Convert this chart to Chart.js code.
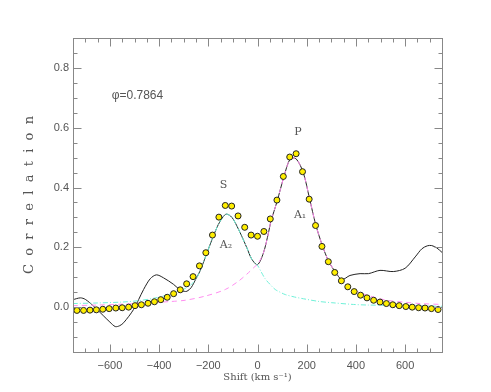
<!DOCTYPE html>
<html>
<head>
<meta charset="utf-8">
<script src="https://cdn.jsdelivr.net/npm/chart.js@4/dist/chart.umd.min.js"></script>
<style>
  html, body { margin: 0; padding: 0; background: #fff; }
  #c { display: block; }
</style>
</head>
<body>
<canvas id="c" width="491" height="392"></canvas>
<script>
// ---- data ----
const pointX = [-734,-707,-681,-655,-629,-603,-576,-550,-524,-498,-472,-445,-419,-393,-367,-341,-314,-288,-262,-236,-210,-183,-157,-131,-105,-79,-52,-26,0,26,52,79,105,131,157,183,210,236,262,288,314,341,367,393,419,445,472,498,524,550,576,603,629,655,681,707,734];
const pointY = [-0.011,-0.011,-0.010,-0.009,-0.007,-0.005,-0.003,-0.002,0.000,0.005,0.008,0.013,0.018,0.025,0.033,0.045,0.058,0.078,0.102,0.138,0.182,0.241,0.301,0.340,0.338,0.305,0.267,0.241,0.237,0.253,0.295,0.358,0.437,0.502,0.513,0.453,0.361,0.273,0.203,0.152,0.116,0.088,0.068,0.052,0.040,0.031,0.023,0.017,0.012,0.008,0.005,0.002,0.000,-0.002,-0.003,-0.005,-0.008];

const blackX = [-750,-720,-700,-666,-625,-600,-578,-560,-544,-504,-463,-436,-411,-382,-341,-314,-298,-287,-270,-250,-233,-206,-185,-160,-140,-127,-110,-97,-70,-43,-23,0,24,45,54,80,107,133,157,186,211,237,264,290,318,343,376,417,451,498,552,600,641,668,690,708,729,750];
const blackY = [0.025,0.031,0.026,0.003,-0.030,-0.050,-0.065,-0.062,-0.052,-0.008,0.059,0.095,0.108,0.098,0.076,0.057,0.053,0.053,0.065,0.095,0.122,0.18,0.226,0.275,0.302,0.311,0.305,0.292,0.248,0.198,0.160,0.142,0.181,0.25,0.285,0.355,0.435,0.496,0.496,0.45,0.365,0.275,0.205,0.152,0.116,0.092,0.106,0.112,0.112,0.123,0.119,0.13,0.168,0.195,0.205,0.206,0.198,0.183];

const tealX = [-750,-650,-550,-480,-420,-370,-330,-300,-270,-250,-233,-206,-185,-160,-140,-127,-110,-97,-70,-43,-23,0,15,31,50,72,92,113,150,187,250,300,390,450,526,600,750];
const tealY = [0.012,0.014,0.017,0.022,0.030,0.040,0.050,0.060,0.075,0.095,0.122,0.18,0.226,0.275,0.302,0.311,0.305,0.292,0.248,0.198,0.160,0.140,0.118,0.095,0.077,0.059,0.050,0.042,0.034,0.028,0.019,0.015,0.009,0.007,0.006,0.005,0.003];

const pinkX = [-750,-650,-550,-450,-350,-294,-212,-131,-77,-37,-9,0,24,45,54,80,107,133,157,186,211,237,264,290,318,343,370,390,420,458,526,593,661,750];
const pinkY = [0.005,0.007,0.010,0.014,0.019,0.023,0.037,0.059,0.087,0.115,0.137,0.142,0.181,0.25,0.285,0.355,0.435,0.496,0.496,0.45,0.365,0.275,0.205,0.152,0.116,0.09,0.07,0.059,0.047,0.037,0.023,0.017,0.012,0.009];

const xTickValues = [-600,-400,-200,0,200,400,600];
const yTickValues = [0.0,0.2,0.4,0.6,0.8];

const noteText = ['\u03c6=0.7864','S','P','A\u2081','A\u2082'];
const noteX = [-488,-138,164,173,-128];
const noteY = [0.707,0.409,0.585,0.306,0.209];

// ---- build ----
const toXY = (xs, ys) => xs.map((v, i) => ({x: v, y: ys[i]}));

const framePlugin = {
  id: 'frame',
  afterDatasetsDraw(chart) {
    const {ctx, chartArea: a, scales: {x, y}} = chart;
    ctx.save();
    // annotations
    ctx.fillStyle = '#555';
    ctx.textAlign = 'center';
    ctx.textBaseline = 'middle';
    noteText.forEach((t, i) => {
      const px = x.getPixelForValue(noteX[i]);
      const py = y.getPixelForValue(noteY[i]);
      if (i === 0) {
        ctx.font = '12px "Liberation Sans", Arial, sans-serif';
      } else {
        ctx.font = '11px "DejaVu Serif", serif';
      }
      ctx.fillText(t, px, py);
    });
    // frame
    ctx.strokeStyle = '#888';
    ctx.lineWidth = 1;
    const L = Math.round(a.left) + 0.5, R = Math.round(a.right) + 0.5;
    const T = Math.round(a.top) + 0.5, B = Math.round(a.bottom) + 0.5;
    ctx.strokeRect(L, T, R - L, B - T);
    ctx.beginPath();
    for (let v = -750; v <= 750; v += 50) {
      const px = Math.round(x.getPixelForValue(v)) + 0.5;
      const len = (v % 200 === 0) ? 8 : 4;
      ctx.moveTo(px, B); ctx.lineTo(px, B - len);
      ctx.moveTo(px, T); ctx.lineTo(px, T + len);
    }
    for (let k = -3; k <= 18; k++) {
      const v = k * 0.05;
      const py = Math.round(y.getPixelForValue(v)) + 0.5;
      const len = (k % 4 === 0) ? 8 : 4;
      ctx.moveTo(L, py); ctx.lineTo(L + len, py);
      ctx.moveTo(R, py); ctx.lineTo(R - len, py);
    }
    ctx.stroke();
    ctx.restore();
  }
};

new Chart(document.getElementById('c'), {
  type: 'scatter',
  data: {
    datasets: [
      {
        label: 'data',
        data: toXY(pointX, pointY),
        showLine: false,
        pointRadius: 3,
        pointBackgroundColor: '#ffee00',
        pointBorderColor: '#222',
        pointBorderWidth: 1,
        order: 0
      },
      {
        label: 'A2',
        data: toXY(tealX, tealY),
        showLine: true,
        borderColor: '#6ff0d8',
        borderWidth: 1,
        borderDash: [5, 2, 1, 2],
        pointRadius: 0,
        tension: 0.3,
        order: 1
      },
      {
        label: 'A1',
        data: toXY(pinkX, pinkY),
        showLine: true,
        borderColor: '#ff8ef0',
        borderWidth: 1,
        borderDash: [5, 4],
        pointRadius: 0,
        tension: 0.3,
        order: 1
      },
      {
        label: 'ccf',
        data: toXY(blackX, blackY),
        showLine: true,
        borderColor: '#222',
        borderWidth: 1,
        pointRadius: 0,
        tension: 0.3,
        order: 2
      }
    ]
  },
  options: {
    responsive: false,
    animation: false,
    events: [],
    layout: { padding: { left: 0, right: 49, top: 38, bottom: 0 } },
    plugins: { legend: { display: false }, tooltip: { enabled: false } },
    scales: {
      x: {
        type: 'linear',
        min: -750, max: 750,
        grid: { display: false, drawTicks: false },
        border: { display: false },
        afterBuildTicks: s => { s.ticks = xTickValues.map(v => ({value: v})); },
        afterFit: s => { s.height = 40; },
        ticks: {
          padding: 7,
          color: '#555',
          font: { family: '"Liberation Sans", Arial, sans-serif', size: 11 },
          callback: v => (v < 0 ? '\u2212' + Math.abs(v) : String(v)),
          maxRotation: 0
        },
        title: {
          display: true,
          text: 'Shift (km s\u207b\u00b9)',
          color: '#555',
          font: { family: '"DejaVu Serif", serif', size: 10 },
          padding: { top: 0, bottom: 9 }
        }
      },
      y: {
        type: 'linear',
        min: -0.15, max: 0.9,
        grid: { display: false, drawTicks: false },
        border: { display: false },
        afterBuildTicks: s => { s.ticks = yTickValues.map(v => ({value: v})); },
        afterFit: s => { s.width = 73; },
        ticks: {
          padding: 4,
          color: '#555',
          font: { family: '"Liberation Sans", Arial, sans-serif', size: 11 },
          callback: v => Number(v).toFixed(1)
        },
        title: {
          display: true,
          text: 'C  o  r  r  e  l  a  t  i  o  n',
          color: '#555',
          font: { family: '"DejaVu Serif", serif', size: 13 },
          padding: { top: 22, bottom: 0 }
        }
      }
    }
  },
  plugins: [framePlugin]
});
</script>
</body>
</html>
